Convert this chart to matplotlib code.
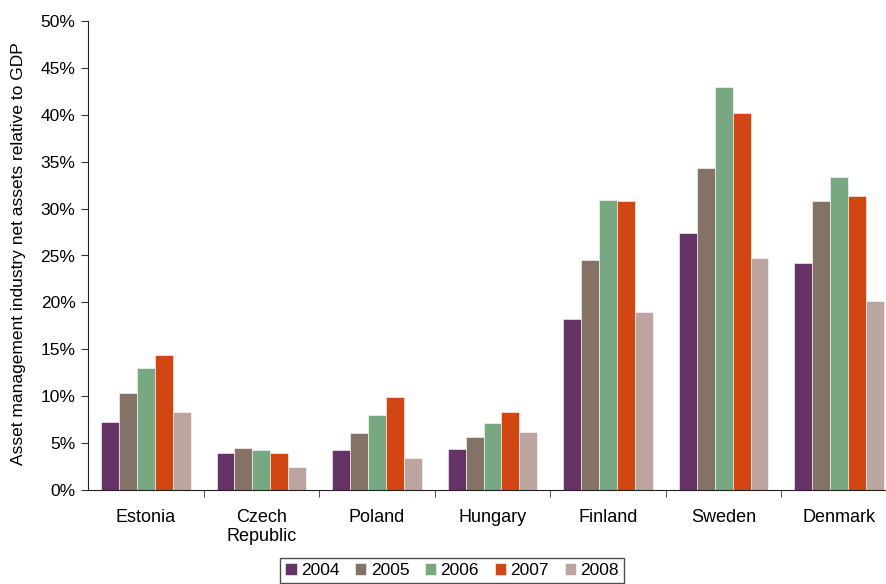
import matplotlib
matplotlib.use("Agg")
import matplotlib.pyplot as plt
import numpy as np

plt.rcParams['font.family'] = ['Liberation Sans', 'DejaVu Sans']

countries = ["Estonia", "Czech\nRepublic", "Poland", "Hungary", "Finland", "Sweden", "Denmark"]
years = ["2004", "2005", "2006", "2007", "2008"]

# Net assets relative to GDP, % per year
v2004 = [7.2, 3.9, 4.25, 4.35, 18.2, 27.4, 24.2]
v2005 = [10.35, 4.45, 6.05, 5.7, 24.5, 34.3, 30.8]
v2006 = [13.05, 4.25, 8.0, 7.15, 30.9, 42.95, 33.35]
v2007 = [14.4, 3.9, 9.9, 8.35, 30.8, 40.15, 31.3]
v2008 = [8.3, 2.45, 3.45, 6.2, 19.0, 24.75, 20.2]
series = [v2004, v2005, v2006, v2007, v2008]

colors = ["#663366", "#847266", "#77A882", "#D24614", "#BDA59F"]

W, H = 887, 584
fig = plt.figure(figsize=(W / 100, H / 100), dpi=100)
left, right, top, bottom = 88, 897, 21, 490
ax = fig.add_axes([left / W, 1 - bottom / H, (right - left) / W, (bottom - top) / H])

x = np.arange(len(countries))
bw = 0.155
for i, (vals, c) in enumerate(zip(series, colors)):
    offs = (i - 2) * bw
    ax.bar(x + offs, vals, width=bw, color=c, edgecolor="white", linewidth=0.4,
           label=years[i], zorder=2)

ax.set_xlim(-0.5, len(countries) - 0.5)
ax.set_ylim(0, 50)
ax.set_yticks(np.arange(0, 51, 5))
ax.set_yticklabels([f"{v}%" for v in range(0, 51, 5)], fontsize=12.5)

# category labels centred, tick marks on the boundaries
ax.set_xticks(x)
ax.set_xticklabels(countries, fontsize=13, linespacing=1.15)
ax.tick_params(axis="x", which="major", length=0, pad=14)
ax.set_xticks(np.arange(0.5, len(countries) - 0.5, 1), minor=True)
ax.tick_params(axis="x", which="minor", length=5, direction="out", color="#333333")
ax.tick_params(axis="y", length=5, direction="out", color="#333333", pad=4)

for s in ["top", "right"]:
    ax.spines[s].set_visible(False)
ax.spines["left"].set_color("#222222")
ax.spines["bottom"].set_color("#222222")

fig.text(19 / W, 1 - 254 / H, "Asset management industry net assets relative to GDP",
         rotation=90, ha="center", va="center", fontsize=12.5)

leg = fig.legend(loc="upper center", bbox_to_anchor=(452 / W, 1 - 558 / H), ncol=5,
                 fontsize=12.5, handlelength=0.65, handleheight=0.65, handletextpad=0.25,
                 columnspacing=0.9, frameon=True, fancybox=False, borderpad=0.3,
                 borderaxespad=0)
leg.get_frame().set_edgecolor("#222222")
leg.get_frame().set_linewidth(1.0)

fig.savefig("out.png", dpi=100)
